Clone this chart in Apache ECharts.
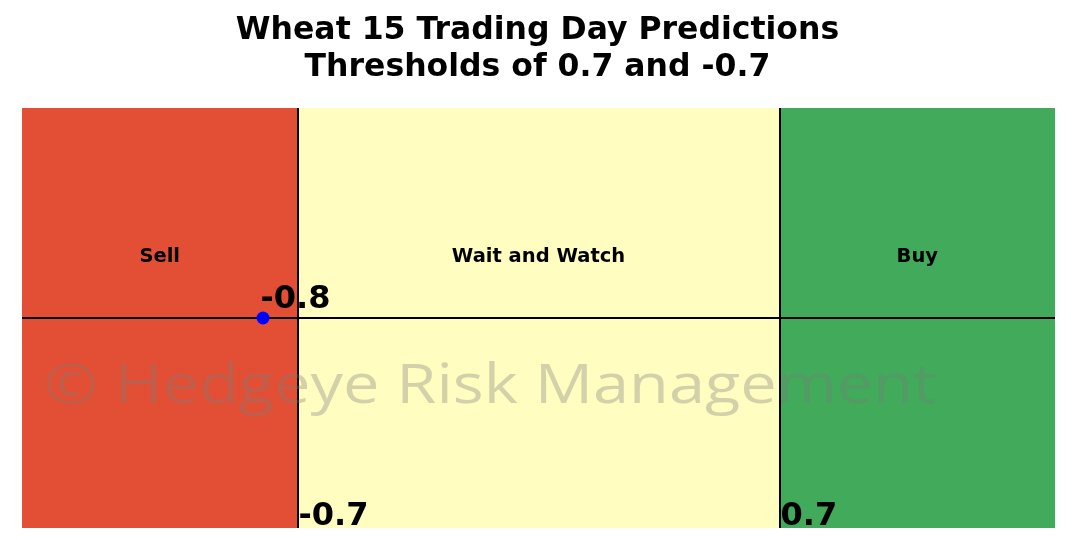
<!DOCTYPE html>
<html>
<head>
<meta charset="utf-8">
<script src="https://cdn.jsdelivr.net/npm/echarts@6/dist/echarts.min.js"></script>
<style>
  html, body { margin: 0; padding: 0; background: #fff; }
  #chart { width: 1075px; height: 540px; }
</style>
</head>
<body>
<div id="chart"></div>
<script>
// Prediction zones on the score axis
const zoneNames = ['Sell', 'Wait and Watch', 'Buy'];
const zoneBounds = [[-1.5, -0.7], [-0.7, 0.7], [0.7, 1.5]];
const zoneColors = ['#e34f35', '#fffdc0', '#41aa5b'];
const zoneLabelY = 0.29;

// Thresholds and current prediction
const thresholds = [-0.7, 0.7];
const prediction = -0.8;
const titleLines = ['Wheat 15 Trading Day Predictions', 'Thresholds of 0.7 and -0.7'];

const chart = echarts.init(document.getElementById('chart'), null, { renderer: 'canvas' });
const FONT = 'DejaVu Sans';

const zoneLabelData = zoneNames.map((name, i) => ({
  value: [(zoneBounds[i][0] + zoneBounds[i][1]) / 2, zoneLabelY],
  name: name
}));

chart.setOption({
  animation: false,
  backgroundColor: '#ffffff',
  title: {
    text: titleLines.join('\n'),
    left: 'center',
    top: 7,
    textStyle: { fontFamily: FONT, fontWeight: 'bold', fontSize: 31.5, lineHeight: 37, color: '#000' }
  },
  grid: { left: 22, right: 20, top: 108, bottom: 12 },
  xAxis: { type: 'value', min: -1.5, max: 1.5, show: false },
  yAxis: { type: 'value', min: -1, max: 1, show: false },
  graphic: [{
    // copyright watermark across the plot
    type: 'text',
    x: 44,
    y: 360,
    scaleX: 1.18,
    z: 100,
    style: {
      text: '\u00a9 Hedgeye Risk Management',
      font: '400 55px "Open Sans"',
      textVerticalAlign: 'top',
      fill: 'rgba(120,120,120,0.33)'
    }
  }],
  series: [
    {
      // zone backgrounds, threshold lines and zero line
      type: 'scatter',
      z: 0,
      data: [],
      silent: true,
      markArea: {
        silent: true,
        data: zoneBounds.map((b, i) => [
          { xAxis: b[0], yAxis: -1, itemStyle: { color: zoneColors[i], opacity: 1 } },
          { xAxis: b[1], yAxis: 1 }
        ])
      },
      markLine: {
        silent: true,
        symbol: 'none',
        label: { show: false },
        lineStyle: { color: '#000', width: 2, type: 'solid', opacity: 1 },
        data: [
          ...thresholds.map(t => ({ xAxis: t })),
          { yAxis: 0 }
        ]
      }
    },
    {
      // zone names
      type: 'scatter',
      symbolSize: 0,
      silent: true,
      z: 5,
      itemStyle: { opacity: 1 },
      data: zoneLabelData,
      label: {
        show: true,
        position: 'inside',
        formatter: p => p.name,
        fontFamily: FONT,
        fontWeight: 'bold',
        fontSize: 19.5,
        color: '#000'
      }
    },
    {
      // threshold values along the bottom edge
      type: 'scatter',
      symbolSize: 0,
      silent: true,
      z: 5,
      itemStyle: { opacity: 1 },
      data: thresholds.map(t => [t, -1]),
      label: {
        show: true,
        position: 'insideBottomLeft',
        formatter: p => String(p.value[0]),
        fontFamily: FONT,
        fontWeight: 'bold',
        fontSize: 32,
        color: '#000',
        offset: [-4, 10]
      }
    },
    {
      // current prediction
      type: 'scatter',
      symbol: 'circle',
      symbolSize: 13,
      z: 6,
      itemStyle: { color: '#0000ff', opacity: 1 },
      data: [[prediction, 0]],
      label: {
        show: true,
        position: 'insideBottomLeft',
        formatter: p => String(p.value[0]),
        fontFamily: FONT,
        fontWeight: 'bold',
        fontSize: 32,
        color: '#000',
        offset: [-1, -4]
      }
    }
  ]
});
</script>
</body>
</html>
